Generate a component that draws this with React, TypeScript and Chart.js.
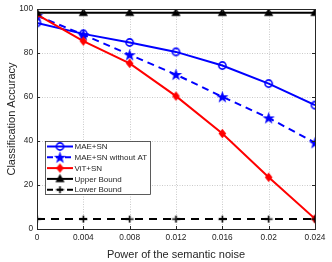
import React, { useEffect, useRef } from "react";
import { Chart, registerables } from "chart.js";

Chart.register(...registerables);

const noise = [0, 0.004, 0.008, 0.012, 0.016, 0.02, 0.024];
const xTickLabels = ["0", "0.004", "0.008", "0.012", "0.016", "0.02", "0.024"];
const maeSN = [93.7, 88.7, 84.8, 80.5, 74.3, 66.1, 56.3];
const maeSNnoAT = [97.0, 88.3, 79.2, 70.2, 60.1, 50.5, 39.2];
const vitSN = [97.5, 85.4, 75.3, 60.4, 43.4, 23.5, 4.6];
const upperBound = [98.3, 98.3, 98.3, 98.3, 98.3, 98.3, 98.3];
const lowerBound = [4.5, 4.5, 4.5, 4.5, 4.5, 4.5, 4.5];
const seriesNames = ["MAE+SN", "MAE+SN without AT", "ViT+SN", "Upper Bound", "Lower Bound"];

const FONT = "'Liberation Sans', Arial, sans-serif";

function makeMarker(kind: string, color: string): HTMLCanvasElement {
  const size = kind === "star" ? 15 : 13;
  const c = document.createElement("canvas");
  c.width = size;
  c.height = size;
  const ctx = c.getContext("2d")!;
  const cx = size / 2;
  const cy = size / 2;
  ctx.strokeStyle = color;
  ctx.fillStyle = color;
  if (kind === "circle") {
    ctx.lineWidth = 1.6;
    ctx.beginPath();
    ctx.arc(cx, cy, 3.6, 0, Math.PI * 2);
    ctx.stroke();
  } else if (kind === "star") {
    const R = 6.5;
    const r = 2.6;
    ctx.beginPath();
    for (let i = 0; i < 10; i++) {
      const rad = i % 2 === 0 ? R : r;
      const a = -Math.PI / 2 + (i * Math.PI) / 5;
      const px = cx + rad * Math.cos(a);
      const py = cy + 0.5 + rad * Math.sin(a);
      if (i === 0) ctx.moveTo(px, py);
      else ctx.lineTo(px, py);
    }
    ctx.closePath();
    ctx.fill();
  } else if (kind === "diamond") {
    ctx.beginPath();
    ctx.moveTo(cx, cy - 4.8);
    ctx.lineTo(cx + 3.8, cy);
    ctx.lineTo(cx, cy + 4.8);
    ctx.lineTo(cx - 3.8, cy);
    ctx.closePath();
    ctx.fill();
  } else if (kind === "triangle") {
    ctx.beginPath();
    ctx.moveTo(cx, cy - 5);
    ctx.lineTo(cx + 4.6, cy + 3.2);
    ctx.lineTo(cx - 4.6, cy + 3.2);
    ctx.closePath();
    ctx.fill();
  } else if (kind === "plus") {
    ctx.lineWidth = 1.6;
    ctx.beginPath();
    ctx.moveTo(cx - 4, cy);
    ctx.lineTo(cx + 4, cy);
    ctx.moveTo(cx, cy - 3.5);
    ctx.lineTo(cx, cy + 3.5);
    ctx.stroke();
  }
  return c;
}

export default function App() {
  const ref = useRef<HTMLCanvasElement | null>(null);

  useEffect(() => {
    if (!ref.current) return;
    const markers = [
      makeMarker("circle", "#0000ff"),
      makeMarker("star", "#0000ff"),
      makeMarker("diamond", "#ff0000"),
      makeMarker("triangle", "#000000"),
      makeMarker("plus", "#000000"),
    ];
    const colors = ["#0000ff", "#0000ff", "#ff0000", "#000000", "#000000"];
    const dashes: number[][] = [[], [7, 5], [], [], [8, 6]];
    const values = [maeSN, maeSNnoAT, vitSN, upperBound, lowerBound];

    const datasets = values.map((vals, i) => ({
      label: seriesNames[i],
      data: noise.map((x, j) => ({ x, y: vals[j] })),
      borderColor: colors[i],
      backgroundColor: colors[i],
      borderWidth: 2,
      borderDash: dashes[i],
      pointStyle: markers[i] as any,
      pointRadius: 5,
      fill: false,
      tension: 0,
      order: 10 - i,
    }));

    const frame = {
      id: "frame",
      beforeDatasetsDraw(chart: any) {
        const { ctx, chartArea: a } = chart;
        const xs = chart.scales.x;
        const ys = chart.scales.y;
        ctx.save();
        ctx.strokeStyle = "#bdbdbd";
        ctx.lineWidth = 0.8;
        ctx.setLineDash([1, 1.5]);
        ctx.beginPath();
        noise.forEach((v) => {
          const px = Math.round(xs.getPixelForValue(v)) + 0.5;
          ctx.moveTo(px, a.top);
          ctx.lineTo(px, a.bottom);
        });
        [0, 20, 40, 60, 80, 100].forEach((v) => {
          const py = Math.round(ys.getPixelForValue(v)) + 0.5;
          ctx.moveTo(a.left, py);
          ctx.lineTo(a.right, py);
        });
        ctx.stroke();
        ctx.restore();
      },
      afterDatasetsDraw(chart: any) {
        const { ctx, chartArea: a } = chart;
        ctx.save();
        ctx.strokeStyle = "#262626";
        ctx.lineWidth = 1;
        ctx.strokeRect(Math.round(a.left) + 0.5, Math.round(a.top) + 0.5, Math.round(a.right - a.left), Math.round(a.bottom - a.top));
        const xs = chart.scales.x;
        const ys = chart.scales.y;
        ctx.beginPath();
        noise.forEach((v) => {
          const px = Math.round(xs.getPixelForValue(v)) + 0.5;
          ctx.moveTo(px, a.bottom);
          ctx.lineTo(px, a.bottom - 3);
          ctx.moveTo(px, a.top);
          ctx.lineTo(px, a.top + 3);
        });
        [0, 20, 40, 60, 80, 100].forEach((v) => {
          const py = Math.round(ys.getPixelForValue(v)) + 0.5;
          ctx.moveTo(a.left, py);
          ctx.lineTo(a.left + 3, py);
          ctx.moveTo(a.right, py);
          ctx.lineTo(a.right - 3, py);
        });
        ctx.stroke();
        ctx.restore();
      },
      afterDraw(chart: any) {
        const { ctx } = chart;
        ctx.save();
        const bx = 45.5;
        const by = 141.5;
        const bw = 105;
        const bh = 53;
        ctx.fillStyle = "#ffffff";
        ctx.fillRect(bx, by, bw, bh);
        ctx.strokeStyle = "#262626";
        ctx.lineWidth = 0.75;
        ctx.strokeRect(bx, by, bw, bh);
        ctx.font = `8px ${FONT}`;
        ctx.textBaseline = "middle";
        ctx.textAlign = "left";
        for (let i = 0; i < 5; i++) {
          const y = 146.5 + i * 10.8;
          ctx.strokeStyle = colors[i];
          ctx.lineWidth = 2;
          ctx.setLineDash(i === 1 ? [6, 3] : i === 4 ? [6, 4] : []);
          ctx.beginPath();
          ctx.moveTo(47, y);
          ctx.lineTo(73, y);
          ctx.stroke();
          ctx.setLineDash([]);
          const m = markers[i];
          ctx.drawImage(m, 60 - m.width / 2, y - m.height / 2);
          ctx.fillStyle = "#262626";
          ctx.fillText(seriesNames[i], 74.5, y + 0.5);
        }
        ctx.restore();
      },
    };

    const chart = new Chart(ref.current, {
      type: "line",
      data: { datasets: datasets as any },
      plugins: [frame],
      options: {
        animation: false,
        responsive: false,
        maintainAspectRatio: false,
        layout: { padding: { left: 0, right: 17, top: 9, bottom: 0 } },
        plugins: {
          legend: { display: false },
          tooltip: { enabled: false },
        },
        scales: {
          x: {
            type: "linear",
            min: 0,
            max: 0.024,
            afterBuildTicks(scale: any) {
              scale.ticks = noise.map((v) => ({ value: v }));
            },
            afterFit(scale: any) {
              scale.height = 33;
            },
            grid: { display: false, drawTicks: false },
            border: { display: false },
            ticks: {
              autoSkip: false,
              maxRotation: 0,
              padding: 4,
              color: "#262626",
              font: { family: FONT, size: 8.3 },
              callback: (v: any, i: number) => xTickLabels[i],
            },
            title: {
              display: true,
              text: "Power of the semantic noise",
              color: "#262626",
              font: { family: FONT, size: 11 },
              padding: { top: 1, bottom: 0 },
            },
          },
          y: {
            min: 0,
            max: 100,
            afterBuildTicks(scale: any) {
              scale.ticks = [0, 20, 40, 60, 80, 100].map((v) => ({ value: v }));
            },
            afterFit(scale: any) {
              scale.width = 37;
            },
            grid: { display: false, drawTicks: false },
            border: { display: false },
            ticks: {
              padding: 4,
              color: "#262626",
              font: { family: FONT, size: 8.3 },
            },
            title: {
              display: true,
              text: "Classification Accuracy",
              color: "#262626",
              font: { family: FONT, size: 11 },
              padding: { top: 5, bottom: 0 },
            },
          },
        },
      },
    });
    return () => chart.destroy();
  }, []);

  return (
    <div style={{ position: "fixed", left: 0, top: 0, width: 332, height: 262, background: "#fff" }}>
      <canvas ref={ref} width={332} height={262} style={{ width: 332, height: 262 }} />
    </div>
  );
}
